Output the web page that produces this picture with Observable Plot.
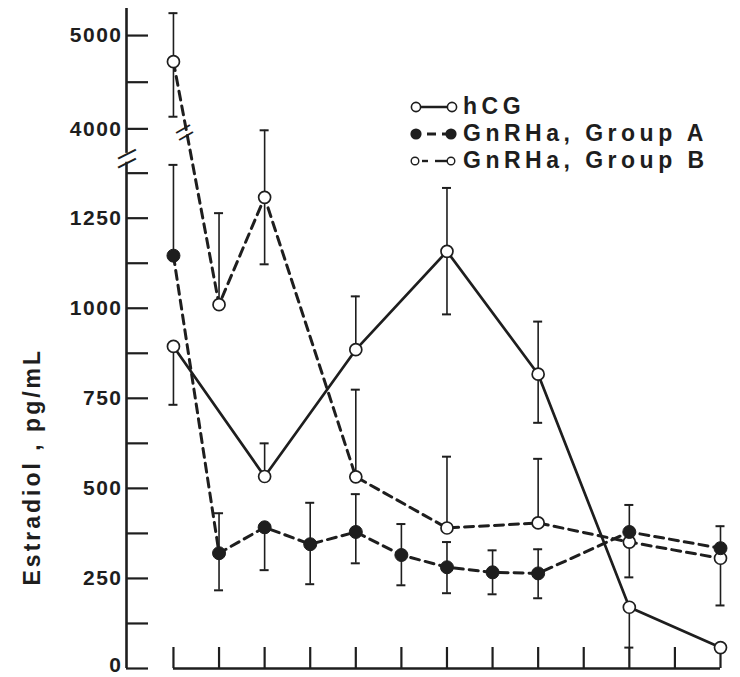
<!DOCTYPE html>
<html>
<head>
<meta charset="utf-8">
<script src="https://cdn.jsdelivr.net/npm/d3@7"></script>
<script src="https://cdn.jsdelivr.net/npm/@observablehq/plot@0.6"></script>
<style>
  html, body { margin: 0; padding: 0; background: #fff; }
  #wrap { position: relative; width: 740px; height: 677px; overflow: hidden; }
  #legend { position: absolute; left: 410px; top: 93px; font-family: "Liberation Sans", Arial, sans-serif;
            font-weight: bold; font-size: 23px; letter-spacing: 4.5px; color: #1e1e1e; }
  #legend .row { display: flex; align-items: center; height: 27px; white-space: nowrap; }
  #legend svg { margin-right: 5px; flex: none; }
</style>
</head>
<body>
<div id="wrap"><div id="chart"></div><div id="legend"></div></div>
<script>
// ---- data ----
const timepoints = [0, 1, 2, 3, 4, 5, 6, 7, 8, 9, 10, 11, 12];

const seriesNames = ["hCG", "GnRHa, Group A", "GnRHa, Group B"];

const hcgIdx  = [0, 2, 4, 6, 8, 10, 12];
const hcgMean = [894, 533, 885, 1158, 817, 170, 58];
const hcgLow  = [732, 533, 885, 983, 682, 58, 58];
const hcgHigh = [894, 625, 1033, 1334, 963, 170, 58];

const grpAIdx  = [0, 1, 2, 3, 4, 5, 6, 7, 8, 10, 12];
const grpAMean = [1146, 320, 392, 345, 379, 315, 281, 267, 264, 379, 334];
const grpALow  = [1146, 217, 273, 234, 292, 231, 209, 206, 195, 379, 334];
const grpAHigh = [1398, 431, 392, 460, 484, 401, 351, 328, 331, 454, 395];

const grpBIdx  = [0, 1, 2, 4, 6, 8, 10, 12];
const grpBMean = [4720, 1010, 1308, 532, 390, 404, 351, 306];
const grpBLow  = [4130, 1010, 1122, 532, 390, 404, 253, 175];
const grpBHigh = [5240, 1264, 1494, 774, 588, 582, 351, 306];

const yTickValues  = [0, 125, 250, 375, 500, 625, 750, 875, 1000, 1125, 1250, 1375, 4000, 4500, 5000];
const yLabelValues = [0, 250, 500, 750, 1000, 1250, 4000, 5000];
const yAxisLabel = "Estradiol , pg/mL";

// ---- broken axis: values above the break are compressed onto the lower scale ----
const upperStart = 4000, upperOffset = 1498, upperFactor = 0.259;
const brk = v => v < 2500 ? v : upperOffset + (v - upperStart) * upperFactor;
const axisTopValue = 5290;
const axisBreakLow = 1405, axisBreakHigh = 1430;
const lineBreak = {x: 0.2, y: 3975};

const xMin = -1.03;
const ink = "#1e1e1e";
const font = "Liberation Sans, Arial, sans-serif";

const rows = (idx, mean, lo, hi) => idx.map((x, i) => ({x, mean: mean[i], lo: lo[i], hi: hi[i]}));
const hcg = rows(hcgIdx, hcgMean, hcgLow, hcgHigh);
const grpA = rows(grpAIdx, grpAMean, grpALow, grpAHigh);
const grpB = rows(grpBIdx, grpBMean, grpBLow, grpBHigh);
const all = [...hcg, ...grpA, ...grpB];
const bars = all.filter(d => d.hi > d.lo);
const caps = all.flatMap(d => [
  ...(d.lo < d.mean ? [{x: d.x, v: d.lo}] : []),
  ...(d.hi > d.mean ? [{x: d.x, v: d.hi}] : [])
]);
const axisSegments = [[0, axisBreakLow], [axisBreakHigh, axisTopValue]];
const tickLabelOpts = {x: () => xMin, y: d => brk(d), text: d => String(d), textAnchor: "end", dx: -4,
  fontSize: 21, fontWeight: "bold", fill: ink};

const chart = Plot.plot({
  width: 740, height: 677,
  marginLeft: 126, marginRight: 20, marginTop: 8, marginBottom: 9,
  style: {background: "#fff", overflow: "visible", fontFamily: font},
  x: {domain: [xMin, 12], axis: null},
  y: {domain: [0, brk(axisTopValue)], axis: null},
  marks: [
    // y axis line (broken)
    Plot.ruleX(axisSegments, {x: () => xMin, y1: d => brk(d[0]), y2: d => brk(d[1]), stroke: ink, strokeWidth: 2.6}),
    // y ticks, pointing inwards
    Plot.ruleY(yTickValues, {y: d => brk(d), x1: () => xMin, x2: () => xMin, insetRight: -22, stroke: ink, strokeWidth: 2.2}),
    // y tick labels
    Plot.text(yLabelValues.filter(v => v > 0), tickLabelOpts),
    Plot.text(yLabelValues.filter(v => v === 0), {...tickLabelOpts, dy: -3}),
    // axis break slashes
    Plot.text([axisBreakLow, axisBreakHigh], {x: () => xMin, y: d => brk(d), text: () => "\u2014", rotate: -27,
      fontSize: 20, fontWeight: "bold", fill: ink}),
    // x axis line and ticks
    Plot.ruleY([0], {x1: timepoints[0], x2: timepoints[timepoints.length - 1], stroke: ink, strokeWidth: 2.6}),
    Plot.ruleX(timepoints, {x: d => d, y1: () => 0, y2: () => 0, insetTop: -21, stroke: ink, strokeWidth: 2.2}),
    // y axis title (starts at the bottom, reads upwards)
    Plot.text([yAxisLabel], {frameAnchor: "left", textAnchor: "start", text: d => d, rotate: -90, dx: -94, dy: 247,
      fontSize: 23, fontWeight: "bold", fill: ink}),
    // error bars
    Plot.ruleX(bars, {x: "x", y1: d => brk(d.lo), y2: d => brk(d.hi), stroke: ink, strokeWidth: 1.6}),
    Plot.ruleY(caps, {y: d => brk(d.v), x1: "x", x2: "x", insetLeft: -4.5, insetRight: -4.5, stroke: ink, strokeWidth: 2}),
    // lines
    Plot.line(hcg, {x: "x", y: d => brk(d.mean), stroke: ink, strokeWidth: 2.7}),
    Plot.line(grpA, {x: "x", y: d => brk(d.mean), stroke: ink, strokeWidth: 3, strokeDasharray: "9,6"}),
    Plot.line(grpB, {x: "x", y: d => brk(d.mean), stroke: ink, strokeWidth: 3, strokeDasharray: "9,6"}),
    // break on group B line
    Plot.text([lineBreak], {x: "x", y: d => brk(d.y), text: () => "\u2014", rotate: -30, dy: -3,
      fontSize: 16, fontWeight: "bold", fill: ink}),
    Plot.text([lineBreak], {x: "x", y: d => brk(d.y), text: () => "\u2014", rotate: -30, dx: 3, dy: 4,
      fontSize: 16, fontWeight: "bold", fill: ink}),
    // markers
    Plot.dot(hcg, {x: "x", y: d => brk(d.mean), r: 6, fill: "#fff", stroke: ink, strokeWidth: 1.7}),
    Plot.dot(grpB, {x: "x", y: d => brk(d.mean), r: 6, fill: "#fff", stroke: ink, strokeWidth: 1.7}),
    Plot.dot(grpA, {x: "x", y: d => brk(d.mean), r: 6.5, fill: ink, stroke: ink, strokeWidth: 1})
  ]
});
// wide tracking of the original typography
d3.select(chart).selectAll("text")
  .filter(function() { return this.textContent === yAxisLabel; })
  .attr("letter-spacing", "3px");
d3.select(chart).selectAll("text")
  .filter(function() { return yLabelValues.map(String).includes(this.textContent); })
  .attr("letter-spacing", "1.5px");
document.getElementById("chart").appendChild(chart);

// ---- legend ----
const swatches = [
  `<svg width="48" height="16"><line x1="6" x2="42" y1="8" y2="8" stroke="${ink}" stroke-width="2.4"/>
     <circle cx="6" cy="8" r="4.6" fill="#fff" stroke="${ink}" stroke-width="1.6"/>
     <circle cx="42" cy="8" r="4.6" fill="#fff" stroke="${ink}" stroke-width="1.6"/></svg>`,
  `<svg width="48" height="16"><line x1="17" x2="26" y1="8" y2="8" stroke="${ink}" stroke-width="3"/>
     <line x1="32" x2="41" y1="8" y2="8" stroke="${ink}" stroke-width="3"/>
     <circle cx="6" cy="8" r="5.6" fill="${ink}"/><circle cx="41" cy="8" r="5.6" fill="${ink}"/></svg>`,
  `<svg width="48" height="16"><line x1="12" x2="18" y1="8" y2="8" stroke="${ink}" stroke-width="2.4"/>
     <line x1="25" x2="39" y1="8" y2="8" stroke="${ink}" stroke-width="2.4"/>
     <circle cx="5" cy="8" r="3.8" fill="#fff" stroke="${ink}" stroke-width="1.4"/>
     <circle cx="41" cy="8" r="3.8" fill="#fff" stroke="${ink}" stroke-width="1.4"/></svg>`
];
document.getElementById("legend").innerHTML = seriesNames
  .map((n, i) => `<div class="row">${swatches[i]}<span>${n}</span></div>`).join("");
</script>
</body>
</html>
